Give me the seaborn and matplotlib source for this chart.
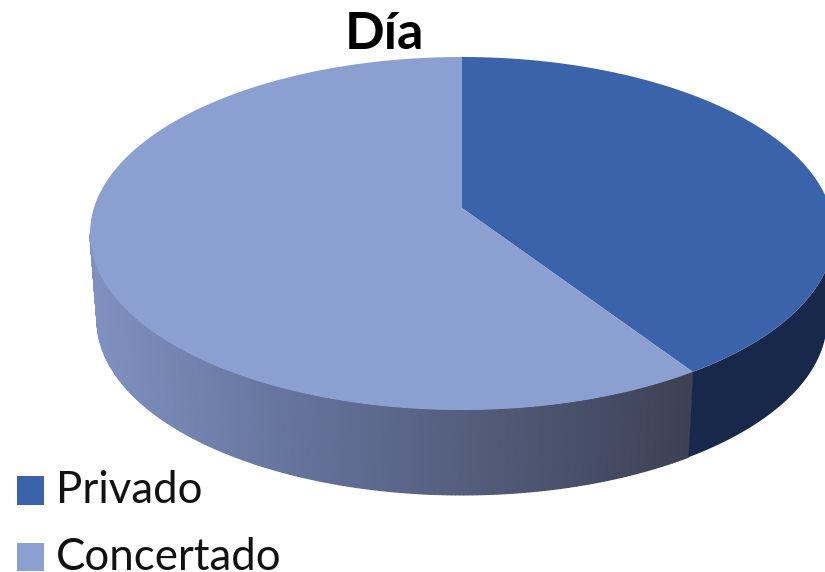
import numpy as np
import matplotlib
matplotlib.use('Agg')
import matplotlib.pyplot as plt
from matplotlib.colors import LinearSegmentedColormap
from matplotlib.legend_handler import HandlerPatch
from matplotlib.patches import Polygon, Rectangle
import seaborn as sns

labels = ['Privado', 'Concertado']
values = [40.7, 59.3]
colors = ['#3B63AB', '#8C9FD1']
title = 'Día'

sns.set_theme(style='white')
plt.rcParams['font.family'] = ['Lato', 'DejaVu Sans']

W, H = 825, 572
cx, cy = 462, 233.5
rx, ry = 372, 176.5
tilt_a = (233.5 - 208) / ry

fig = plt.figure(figsize=(W / 100, H / 100), dpi=100)
ax = fig.add_axes([0, 0, 1, 1])

# perspective: keeps the unit circle, moves the pie centre up
def tilt(x, y):
    d = 1 + tilt_a * y
    return x * np.sqrt(1 - tilt_a ** 2) / d, (y + tilt_a) / d

wedges, _ = ax.pie(values, startangle=90, counterclock=False, radius=1)

tops = []
for w, c in zip(wedges, colors):
    t = np.radians(np.linspace(w.theta1, w.theta2, 300))
    x, y = tilt(np.cos(t), np.sin(t))
    x0, y0 = tilt(0.0, 0.0)
    tops += ax.fill(np.r_[x0, x], np.r_[y0, y], color=c, lw=0, zorder=3)
split_x, split_y = tilt(np.cos(np.radians(wedges[0].theta1)), np.sin(np.radians(wedges[0].theta1)))
split = np.degrees(np.arctan2(split_y, split_x))
for w in wedges:
    w.remove()

# pie is stretched into an ellipse, limits are worked out from pixels
ax.set_aspect('auto')
ax.set_xlim(-cx / rx, (W - cx) / rx)
ax.set_ylim((cy - H) / ry, cy / ry)

# lower rim, slightly smaller than the top ellipse
k_x = 365 / rx
k_y = 175 / ry
drop = 86.5 / ry

def wall(a0, a1):
    t = np.radians(np.linspace(a0, a1, 200))
    X = np.vstack([np.cos(t), k_x * np.cos(t)])
    Y = np.vstack([np.sin(t), k_y * np.sin(t) - drop])
    return X, Y

cmap = LinearSegmentedColormap.from_list('side', [(0, '#8091C1'), (0.31, '#67769F'), (1, '#3D4155')])
X, Y = wall(180, 360 + split)
ax.pcolormesh(X, Y, X[0:1].repeat(2, axis=0), cmap=cmap, shading='gouraud', zorder=1)

X, Y = wall(360 + split, 360)
ax.fill(np.r_[X[0], X[1][::-1]], np.r_[Y[0], Y[1][::-1]], color='#17284A', lw=0, zorder=2)

ax.text((384 - cx) / rx, (cy - 49) / ry, title, fontsize=37.5, fontweight='bold',
        color='black', ha='center', va='baseline', zorder=4)

# squares sit a little lower than the text baseline box
def square(legend, orig_handle, xdescent, ydescent, width, height, fontsize):
    return Rectangle((-xdescent, -ydescent - 2.16), width, height)

ax.legend(tops, labels, loc='lower left', bbox_to_anchor=(0.0048, -0.0328),
          bbox_transform=ax.transAxes, frameon=False, fontsize=31.5, labelcolor='#111111',
          handlelength=0.617, handleheight=0.617, handletextpad=0.27,
          labelspacing=0.587, borderpad=0.3, borderaxespad=0,
          handler_map={Polygon: HandlerPatch(patch_func=square)})

fig.savefig('out.png', dpi=100)
